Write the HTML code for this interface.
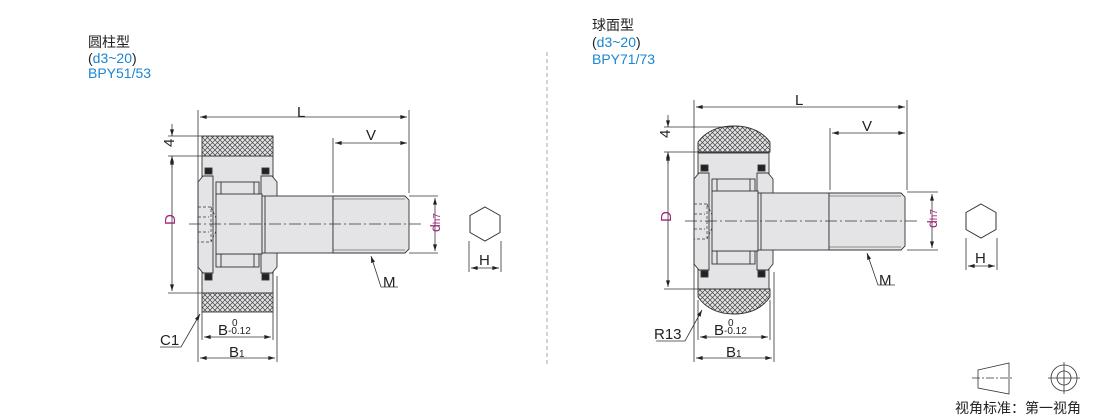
<!DOCTYPE html>
<html><head><meta charset="utf-8"><style>
body{margin:0;background:#fff;width:1110px;height:418px;overflow:hidden}
svg{display:block}
text{font-family:"Liberation Sans","Noto Sans CJK SC",sans-serif;fill:#222}
.b{fill:#1a86d0}
.m{fill:#a0267e}
</style></head><body>
<svg width="1110" height="418" viewBox="0 0 1110 418" xmlns="http://www.w3.org/2000/svg">
<defs>
<pattern id="kn" width="5" height="5" patternUnits="userSpaceOnUse">
<rect width="5" height="5" fill="#e4e4e6"/>
<path d="M0 0L5 5M5 0L0 5" stroke="#444" stroke-width="0.7"/>
</pattern>
<marker id="ar" viewBox="0 0 10 6" refX="10" refY="3" markerWidth="9" markerHeight="5" orient="auto-start-reverse"><path d="M0 0L10 3L0 6z" fill="#222"/></marker>
<g id="core" stroke="#333" stroke-width="0.9">
<rect x="202" y="156" width="71" height="137" fill="#e4e4e6"/>
<path d="M203 176H213V273H203L198 267V182Z" fill="#e4e4e6"/>
<path d="M261 176H272L277 182V267L272 273H261Z" fill="#e4e4e6"/>
<rect x="216" y="182" width="43" height="13" fill="#e4e4e6"/>
<rect x="216" y="254" width="43" height="13" fill="#e4e4e6"/>
<path d="M221 182V195M254 182V195M221 254V267M254 254V267" fill="none"/>
<rect x="216" y="194" width="46" height="60" fill="#e4e4e6"/>
<rect x="262" y="196" width="71" height="57" fill="#e4e4e6"/>
<path d="M265 196V253" fill="none"/>
<path d="M333 196H405L409 200V249L405 253H333Z" fill="#e4e4e6"/>
<path d="M333 199H405M333 250H405" fill="none" stroke-width="0.6"/>
<rect x="205" y="168" width="7" height="6" fill="#222"/>
<rect x="262" y="168" width="7" height="6" fill="#222"/>
<rect x="205" y="274" width="7" height="6" fill="#222"/>
<rect x="262" y="274" width="7" height="6" fill="#222"/>
<path d="M198 207H211V242H198M211 207L216 218V231L211 242M198 217H209M198 232H209" fill="none" stroke-dasharray="3 2" stroke-width="0.7"/>
<path d="M189 224H422" fill="none" stroke-dasharray="12 3 2 3" stroke-width="0.7"/>
</g>
<g id="hex"><path d="M0 -17L15 -8.5V8.5L0 17L-15 8.5V-8.5Z" fill="#fff" stroke="#333"/></g>
</defs>

<text x="88" y="47" font-size="14">圆柱型</text>
<text x="88" y="63" font-size="14">(<tspan class="b">d3~20</tspan>)</text>
<text x="88" y="78" font-size="14" class="b">BPY51/53</text>
<text x="592" y="30" font-size="14">球面型</text>
<text x="592" y="47" font-size="14">(<tspan class="b">d3~20</tspan>)</text>
<text x="592" y="64" font-size="14" class="b">BPY71/73</text>
<path d="M547 52V366" stroke="#aaa" stroke-dasharray="4 3"/>

<!-- LEFT -->
<use href="#core"/>
<rect x="202" y="136" width="71" height="20" fill="url(#kn)" stroke="#333" stroke-width="0.9"/>
<rect x="202" y="293" width="71" height="19" fill="url(#kn)" stroke="#333" stroke-width="0.9"/>
<g stroke="#333" stroke-width="0.8" fill="none">
<path d="M198 110V362M409 110V193M333 138V193M277 276V362M202 312V340M273 312V340"/>
<path d="M168 136H202M168 156H202M168 293H202M409 196H438M409 253H438"/>
<path d="M200 117H407" marker-start="url(#ar)" marker-end="url(#ar)"/>
<path d="M335 143H407" marker-start="url(#ar)" marker-end="url(#ar)"/>
<path d="M172 158V291" marker-start="url(#ar)" marker-end="url(#ar)"/>
<path d="M172 124V136" marker-end="url(#ar)"/><path d="M172 168V156" marker-end="url(#ar)"/>
<path d="M435 198V251" marker-start="url(#ar)" marker-end="url(#ar)"/>
<path d="M204 337H271" marker-start="url(#ar)" marker-end="url(#ar)"/>
<path d="M200 358H275" marker-start="url(#ar)" marker-end="url(#ar)"/>
<path d="M398 287H381L371 256" marker-end="url(#ar)"/>
<path d="M160 347H181L200 314" marker-end="url(#ar)"/>
<path d="M469 241V272M501 241V272"/>
<path d="M471 268H499" marker-start="url(#ar)" marker-end="url(#ar)"/>
</g>
<use href="#hex" x="485" y="224"/>
<text x="297" y="117" font-size="15">L</text>
<text x="366" y="140" font-size="15">V</text>
<text x="169" y="152" font-size="15" transform="rotate(-90 169 147)">4</text>
<text x="170" y="230" font-size="15" class="m" transform="rotate(-90 170 225)">D</text>
<text x="424" y="234" font-size="14" class="m" transform="rotate(-90 431 225)">d<tspan font-size="10">h7</tspan></text>
<text x="383" y="287" font-size="15">M</text>
<text x="218" y="335" font-size="15">B<tspan font-size="10" dy="-1">-0.12</tspan></text>
<text x="232" y="326" font-size="10">0</text>
<text x="229" y="357" font-size="15">B<tspan font-size="10">1</tspan></text>
<text x="160" y="345" font-size="15">C1</text>
<text x="479" y="265" font-size="15">H</text>

<!-- RIGHT -->
<use href="#core" transform="translate(496,-3)"/>
<path d="M698 152V142Q710 126 734 126Q758 126 770 142V152Z" fill="url(#kn)" stroke="#333" stroke-width="0.9"/>
<path d="M698 289V297Q710 314 734 314Q758 314 770 297V289Z" fill="url(#kn)" stroke="#333" stroke-width="0.9"/>
<g stroke="#333" stroke-width="0.8" fill="none">
<path d="M694 100V362M907 100V190M830 128V190M774 272V362M698 300V340M770 300V340"/>
<path d="M664 127H734M664 152H698M664 289H698M907 192H938M907 250H938"/>
<path d="M696 107H905" marker-start="url(#ar)" marker-end="url(#ar)"/>
<path d="M832 133H905" marker-start="url(#ar)" marker-end="url(#ar)"/>
<path d="M668 154V287" marker-start="url(#ar)" marker-end="url(#ar)"/>
<path d="M668 115V127" marker-end="url(#ar)"/><path d="M668 164V152" marker-end="url(#ar)"/>
<path d="M932 194V248" marker-start="url(#ar)" marker-end="url(#ar)"/>
<path d="M700 337H768" marker-start="url(#ar)" marker-end="url(#ar)"/>
<path d="M696 358H772" marker-start="url(#ar)" marker-end="url(#ar)"/>
<path d="M895 285H878L867 253" marker-end="url(#ar)"/>
<path d="M656 341H685L702 310" marker-end="url(#ar)"/>
<path d="M966 238V270M997 238V270"/>
<path d="M968 266H995" marker-start="url(#ar)" marker-end="url(#ar)"/>
</g>
<use href="#hex" x="981" y="221"/>
<text x="795" y="105" font-size="15">L</text>
<text x="862" y="131" font-size="15">V</text>
<text x="665" y="143" font-size="15" transform="rotate(-90 665 138)">4</text>
<text x="666" y="227" font-size="15" class="m" transform="rotate(-90 666 222)">D</text>
<text x="921" y="230" font-size="14" class="m" transform="rotate(-90 928 221)">d<tspan font-size="10">h7</tspan></text>
<text x="879" y="285" font-size="15">M</text>
<text x="714" y="335" font-size="15">B<tspan font-size="10" dy="-1">-0.12</tspan></text>
<text x="728" y="326" font-size="10">0</text>
<text x="726" y="357" font-size="15">B<tspan font-size="10">1</tspan></text>
<text x="654" y="339" font-size="15">R13</text>
<text x="975" y="263" font-size="15">H</text>

<g stroke="#333" stroke-width="0.8" fill="none">
<path d="M978 370L1009 363V394L978 388Z"/>
<path d="M972 378H1014" stroke-dasharray="8 2 2 2"/>
<circle cx="1064" cy="378" r="13"/><circle cx="1064" cy="378" r="7"/>
<path d="M1048 378H1080M1064 362V394"/>
</g>
<text x="955" y="413" font-size="14">视角标准：第一视角</text>
</svg>
</body></html>
